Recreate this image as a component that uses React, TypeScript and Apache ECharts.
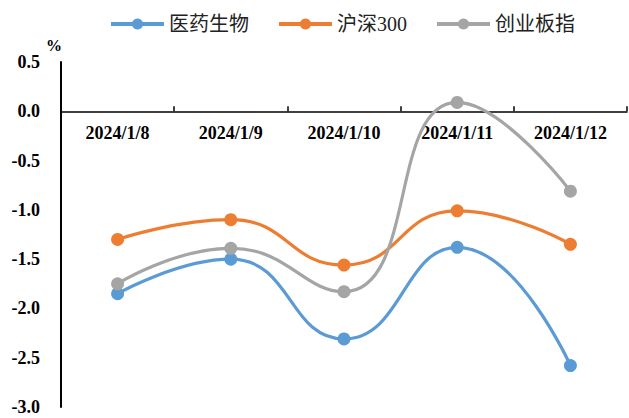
import React, { useEffect, useRef } from "react";
import * as echarts from "echarts";

const categories = ["2024/1/8", "2024/1/9", "2024/1/10", "2024/1/11", "2024/1/12"];
const pharma = [-1.85, -1.5, -2.31, -1.38, -2.58];
const csi300 = [-1.3, -1.1, -1.56, -1.01, -1.35];
const chinext = [-1.75, -1.39, -1.83, 0.09, -0.81];
const seriesNames = ["医药生物", "沪深300", "创业板指"];
const colors = ["#5B9BD5", "#ED7D31", "#A5A5A5"];

const serif = "'Liberation Serif', 'Times New Roman', serif";

const Y_MIN = -3;
const Y_MAX = 0.5;
const GRID_TOP = 62;
const GRID_BOTTOM = 11;
const CHART_H = 418;

export default function App() {
  const ref = useRef<HTMLDivElement>(null);

  useEffect(() => {
    if (!ref.current) return;
    const chart = echarts.init(ref.current, undefined, { renderer: "svg" });
    const values = [pharma, csi300, chinext];
    // The category axis sits on the zero line: place it at the top edge and push it down.
    const plotH = CHART_H - GRID_TOP - GRID_BOTTOM;
    const zeroOffset = (Y_MAX / (Y_MAX - Y_MIN)) * plotH;
    chart.setOption({
      animation: false,
      backgroundColor: "#ffffff",
      color: colors,
      legend: {
        top: 9,
        left: 104,
        itemWidth: 53,
        itemHeight: 14,
        itemGap: 28,
        lineStyle: { width: 4 },
        textStyle: {
          fontFamily: serif + ", 'Noto Sans CJK SC'",
          fontSize: 20,
          color: "#222",
        },
        data: seriesNames,
      },
      graphic: [
        {
          type: "text",
          left: 46,
          top: 37,
          style: { text: "%", font: "bold 16px " + serif, fill: "#000" },
        },
      ],
      grid: {
        left: 61,
        right: 2,
        top: GRID_TOP,
        bottom: GRID_BOTTOM,
        containLabel: false,
        outerBoundsMode: "none",
      },
      xAxis: {
        type: "category",
        position: "top",
        offset: -zeroOffset,
        data: categories,
        boundaryGap: true,
        axisLine: { onZero: false, lineStyle: { color: "#000", width: 1.5 } },
        axisTick: { show: true, inside: false, length: 5, lineStyle: { color: "#000", width: 1.5 } },
        axisLabel: {
          inside: true,
          margin: 13,
          fontFamily: serif,
          fontWeight: "bold",
          fontSize: 18,
          color: "#000",
        },
        splitLine: { show: false },
      },
      yAxis: {
        type: "value",
        min: Y_MIN,
        max: Y_MAX,
        interval: 0.5,
        axisLine: { show: true, lineStyle: { color: "#000", width: 2 } },
        axisTick: { show: false },
        splitLine: { show: false },
        axisLabel: {
          margin: 21,
          fontFamily: serif,
          fontWeight: "bold",
          fontSize: 18,
          color: "#000",
          formatter: (v: number) => v.toFixed(1),
        },
      },
      series: seriesNames.map((name, i) => ({
        name,
        type: "line",
        data: values[i],
        smooth: 0.5,
        symbol: "circle",
        symbolSize: 13,
        lineStyle: { width: 3.2, color: colors[i] },
        itemStyle: { color: colors[i] },
      })),
    });
    return () => chart.dispose();
  }, []);

  return (
    <div
      ref={ref}
      style={{ position: "fixed", left: 0, top: 0, width: 629, height: 418 }}
    />
  );
}
